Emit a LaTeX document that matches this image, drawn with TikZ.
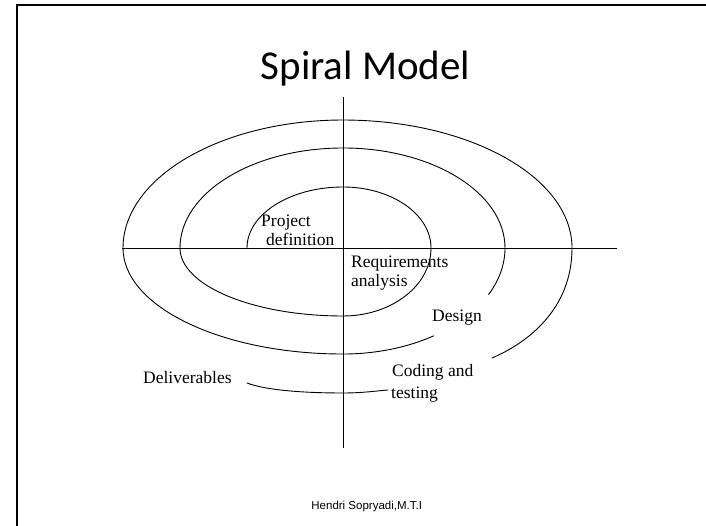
\documentclass[tikz,border=0pt]{standalone}
\usepackage{fontspec}
\setmainfont{Liberation Serif}
\newfontfamily\titlefont{Carlito}
\newfontfamily\footfont{Liberation Sans}
\begin{document}
\begin{tikzpicture}[x=1pt,y=1pt,
  curve/.style={line width=0.9pt, line cap=round},
  axisline/.style={line width=0.9pt},
  frameline/.style={line width=2.2pt},
  lbl/.style={anchor=base west, inner sep=0pt, font=\fontsize{17.5}{20}\selectfont}]
\useasboundingbox (0,0) rectangle (706,526);
\fill[white] (0,0) rectangle (706,526);
\begin{scope}
\clip (0,0) rectangle (706,526);
\draw[frameline] (17,-5) -- (17,521) -- (712,521);
\end{scope}

% title and footer
\node[anchor=base, inner sep=0pt, font=\titlefont\fontsize{41}{44}\selectfont] (title) at (365.5,446) {Spiral Model};
\node[anchor=base, inner sep=0pt, font=\footfont\fontsize{11.5}{13}\selectfont] (footer) at (366.7,16.7) {Hendri Sopryadi,M.T.I};

% axes
\coordinate (vtop) at (343,429);
\coordinate (vbot) at (343,78);
\coordinate (hleft) at (122,278);
\coordinate (hright) at (617,278);
\draw[axisline] (vtop) -- (vbot);
\draw[axisline] (hleft) -- (hright);

% spiral, inner part continuous
\draw[curve] (247,278)
  arc[start angle=180, end angle=90, x radius=96, y radius=61]
  arc[start angle=90, end angle=0, x radius=88, y radius=61]
  arc[start angle=0, end angle=-90, x radius=88, y radius=68]
  arc[start angle=270, end angle=180, x radius=163, y radius=68]
  arc[start angle=180, end angle=90, x radius=163, y radius=100]
  arc[start angle=90, end angle=0, x radius=162, y radius=100]
  arc[start angle=0, end angle=-26, x radius=162, y radius=106];

% after the Design gap
\draw[curve] (433.6,190.1)
  arc[start angle=-56, end angle=-90, x radius=162, y radius=106]
  arc[start angle=270, end angle=180, x radius=220, y radius=106]
  arc[start angle=180, end angle=90, x radius=220, y radius=128]
  arc[start angle=90, end angle=0, x radius=229, y radius=128]
  .. controls (572,215) and (525,182) .. (492,168);

% after the Coding and testing gap
\draw[curve] (388,136) .. controls (376,135) and (362,133) .. (343,133)
  .. controls (302,133) and (265,136) .. (247,143);

% labels
\node[lbl] (proj) at (261,299) {Project};
\node[lbl] (defn) at (266,280) {definition};
\node[lbl] (req) at (351,258) {Requirements};
\node[lbl] (ana) at (351,239) {analysis};
\node[lbl] (des) at (432,204) {Design};
\node[lbl] (cod) at (392,149) {Coding and};
\node[lbl] (tst) at (391,127) {testing};
\node[lbl] (del) at (143,142) {Deliverables};
\end{tikzpicture}
\end{document}
